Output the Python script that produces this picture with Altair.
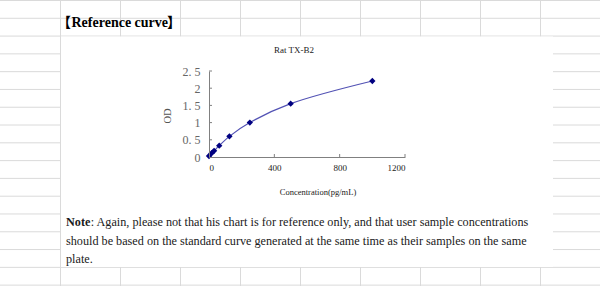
import altair as alt
import pandas as pd

# ---- data ----
conc = [0, 15.6, 31.25, 62.5, 125, 250, 500, 1000]
od = [0.03, 0.11, 0.18, 0.33, 0.60, 1.00, 1.55, 2.21]
x_ticks = [0, 400, 800, 1200]
y_ticks = [0, 0.5, 1, 1.5, 2, 2.5]

chart_title = "Rat TX-B2"
x_title = "Concentration(pg/mL)"
y_title = "OD"
heading_open = "【"
heading = "Reference curve"
heading_close = "】"
note_bold = "Note"
note_rest = ": Again, please not that his chart is for reference only, and that user sample concentrations"
note_line2 = "should be based on the standard curve generated at the same time as their samples on the same"
note_line3 = "plate."

df = pd.DataFrame({"conc": conc, "od": od})

# ---- layout (page pixels) ----
PL, PT, W, H = 209, 71, 196, 86
PAGE_W, PAGE_H = 600, 286


def px(v):
    return v - PL


def py(v):
    return v - PT


one = alt.Data(values=[{"k": 1}])
SERIF = "Liberation Serif"
CJK = "Noto Sans CJK SC"
GRID = "#dadada"

layers = []

# spreadsheet grid (background decoration)
for i in range(17):
    gy = 0.5 + 17.79 * i
    layers.append(
        alt.Chart(one).mark_rule(color=GRID, strokeWidth=1).encode(
            x=alt.value(px(0)), x2=alt.value(px(PAGE_W)),
            y=alt.value(py(gy)))
    )
for j in range(1, 10):
    gx = 60 * j + 0.5
    layers.append(
        alt.Chart(one).mark_rule(color=GRID, strokeWidth=1).encode(
            x=alt.value(px(gx)),
            y=alt.value(py(0)), y2=alt.value(py(PAGE_H)))
    )

# white merged-cell area
layers.append(
    alt.Chart(one).mark_rect(color="white").encode(
        x=alt.value(px(61)), x2=alt.value(px(553)),
        y=alt.value(py(36.5)), y2=alt.value(py(267)))
)


def txt(text, x, y, size, bold=False, color="#1a1a1a", align="left", angle=0, font=SERIF):
    kw = dict(text=text, font=font, fontSize=size, color=color, align=align,
              baseline="middle", fontWeight="bold" if bold else "normal")
    if angle:
        kw["angle"] = angle
    return alt.Chart(one).mark_text(**kw).encode(x=alt.value(px(x)), y=alt.value(py(y)))


layers.append(txt(heading_open, 71, 22.5, 14, bold=True, color="#000000", align="right", font=CJK))
layers.append(txt(heading, 71.5, 22.5, 14, bold=True, color="#000000"))
layers.append(txt(heading_close, 167, 22.5, 14, bold=True, color="#000000", font=CJK))
layers.append(txt(chart_title, 294, 50, 9, align="center"))
layers.append(txt(y_title, 168, 116, 10.5, color="#555555", align="center", angle=270))
layers.append(txt(x_title, 318, 192, 8.5, align="center"))
layers.append(txt(note_bold, 66, 222.3, 12.2, bold=True))
layers.append(txt(note_rest, 90.8, 222.3, 12.2))
layers.append(txt(note_line2, 66, 240.5, 12.2))
layers.append(txt(note_line3, 66, 258.7, 12.2))

xscale = alt.Scale(domain=[0, 1200], nice=False, zero=False)
yscale = alt.Scale(domain=[0, 2.5], nice=False, zero=False)
xaxis = alt.Axis(values=x_ticks, ticks=False, grid=False, title=None, format="d",
                 labelFont=SERIF, labelFontSize=9, labelColor="#222222",
                 labelPadding=6, domainColor="#808080", zindex=1)
yaxis = alt.Axis(values=y_ticks, ticks=False, grid=False, title=None,
                 labelExpr="replace(toString(datum.value), '.', '. ')",
                 labelFont=SERIF, labelFontSize=12, labelColor="#666666",
                 labelPadding=9, domainColor="#808080", zindex=1)

# inside ticks
layers.append(
    alt.Chart(pd.DataFrame({"conc": x_ticks})).mark_rule(color="#808080").encode(
        x=alt.X("conc:Q", scale=xscale, axis=xaxis), y=alt.value(H), y2=alt.value(H - 3))
)
layers.append(
    alt.Chart(pd.DataFrame({"od": y_ticks})).mark_rule(color="#808080").encode(
        y=alt.Y("od:Q", scale=yscale, axis=yaxis), x=alt.value(0), x2=alt.value(3))
)

base = alt.Chart(df).encode(
    x=alt.X("conc:Q", scale=xscale, axis=xaxis),
    y=alt.Y("od:Q", scale=yscale, axis=yaxis),
)
layers.append(base.mark_line(color="#5252b4", strokeWidth=1.2, interpolate="catmull-rom"))
layers.append(base.mark_point(shape="diamond", filled=True, size=40, color="#000080", opacity=1))

chart = alt.layer(*layers).properties(
    width=W, height=H,
    padding={"left": PL, "top": PT, "right": PAGE_W - PL - W, "bottom": PAGE_H - PT - H},
    autosize=alt.AutoSizeParams(type="none"),
    background="white",
).configure_view(stroke=None)

chart.save("out.html", embed_options={"renderer": "svg", "actions": False})
